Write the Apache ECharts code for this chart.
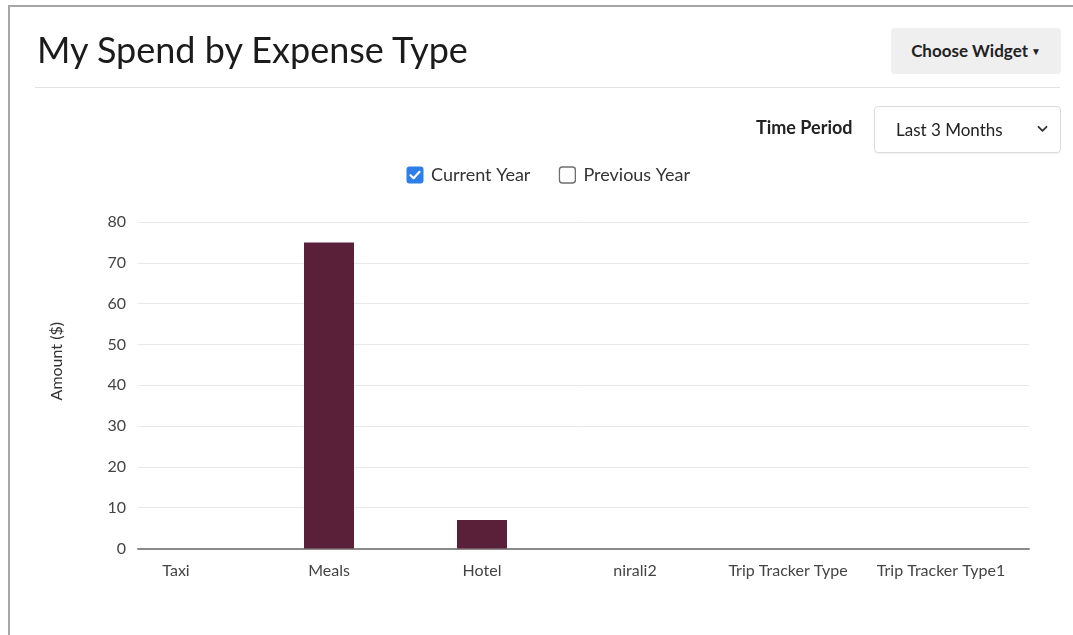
<!DOCTYPE html>
<html>
<head>
<meta charset="utf-8">
<script src="https://cdn.jsdelivr.net/npm/echarts@6/dist/echarts.min.js"></script>
<style>
  html, body { margin: 0; padding: 0; background: #fff; width: 1073px; height: 635px; overflow: hidden; font-family: Lato, "Noto Sans", sans-serif; }
  #frame { position: absolute; left: 8px; top: 5px; width: 1100px; height: 700px; border-left: 2px solid #a6a6a6; border-top: 2px solid #a6a6a6; }
  #chart { position: absolute; left: 0; top: 0; width: 1073px; height: 635px; }
  .abs { position: absolute; }
  #title { left: 37px; top: 27px; font-size: 36px; color: #1b1b1b; white-space: nowrap; }
  #btn { left: 891px; top: 28px; width: 170px; height: 46px; background: #efefef; border-radius: 4px; font-size: 17px; font-weight: bold; color: #222; line-height: 46px; text-align: center; }
  #btn small { font-size: 10px; position: relative; top: -2px; margin-left: 3px; }
  #rule { left: 35px; top: 87px; width: 1025px; height: 1px; background: #e2e2e2; }
  #tp { left: 756px; top: 116px; font-size: 18px; font-weight: bold; color: #222; }
  #sel { left: 874px; top: 106px; width: 185px; height: 45px; border: 1px solid #dcdcdc; border-radius: 4px; box-shadow: 0 1px 2px rgba(0,0,0,0.06); }
  #sel span { position: absolute; left: 21px; top: 12px; font-size: 17px; color: #222; }
  #sel svg { position: absolute; right: 12px; top: 18px; }
</style>
</head>
<body>
<div id="frame"></div>
<div id="chart"></div>
<div class="abs" id="title">My Spend by Expense Type</div>
<div class="abs" id="btn">Choose Widget<small>&#9660;</small></div>
<div class="abs" id="rule"></div>
<div class="abs" id="tp">Time Period</div>
<div class="abs" id="sel"><span>Last 3 Months</span><svg width="11" height="8" viewBox="0 0 11 8"><path d="M1.5 1.8 L5.5 5.8 L9.5 1.8" fill="none" stroke="#333" stroke-width="1.8" stroke-linecap="round" stroke-linejoin="round"/></svg></div>
<script>
const categories = ['Taxi', 'Meals', 'Hotel', 'nirali2', 'Trip Tracker Type', 'Trip Tracker Type1'];
const currentYear = [0, 75, 7, 0, 0, 0];
const previousYear = [];
const yTicks = { min: 0, max: 80, interval: 10 };

const checked = 'image://data:image/svg+xml;charset=utf-8,' + encodeURIComponent(
  '<svg xmlns="http://www.w3.org/2000/svg" width="18" height="18" viewBox="0 0 18 18">' +
  '<rect x="0.5" y="0.5" width="17" height="17" rx="3" fill="#2d7ee6"/>' +
  '<path d="M4.5 9.2 L7.6 12.2 L13.5 5.8" fill="none" stroke="#fff" stroke-width="2.2" stroke-linecap="round" stroke-linejoin="round"/></svg>');
const unchecked = 'image://data:image/svg+xml;charset=utf-8,' + encodeURIComponent(
  '<svg xmlns="http://www.w3.org/2000/svg" width="18" height="18" viewBox="0 0 18 18">' +
  '<rect x="1" y="1" width="16" height="16" rx="3" fill="#fff" stroke="#6f6f6f" stroke-width="1.4"/></svg>');

const chart = echarts.init(document.getElementById('chart'), null, { renderer: 'canvas' });
const fontFamily = 'Lato, "Noto Sans", sans-serif';
chart.setOption({
  animation: false,
  textStyle: { fontFamily },
  legend: {
    left: 401, top: 161, itemWidth: 18, itemHeight: 18, itemGap: 28,
    textStyle: { fontSize: 18, color: '#333', fontFamily, padding: [0, 0, 0, 2] },
    inactiveColor: '#333',
    data: [{ name: 'Current Year', icon: checked }, { name: 'Previous Year', icon: unchecked, textStyle: { color: '#333' } }],
    selected: { 'Current Year': true, 'Previous Year': false }
  },
  graphic: [{
    type: 'text', left: 49, top: 322, rotation: Math.PI / 2,
    style: { text: 'Amount ($)', fill: '#333', font: '16px ' + fontFamily }
  }],
  grid: [
    { left: 99.5, width: 918, top: 222, height: 326.5 },
    { left: 138, width: 891, top: 222, height: 326.5 }
  ],
  xAxis: [
    { type: 'category', gridIndex: 0, data: categories, boundaryGap: true,
      axisLine: { show: false }, axisTick: { show: false },
      axisLabel: { color: '#444', fontSize: 16, margin: 14, interval: 0, fontFamily } },
    { type: 'value', gridIndex: 1, min: 0, max: 1, show: true,
      axisLine: { show: true, lineStyle: { color: '#8a8a8a', width: 2 } },
      axisTick: { show: false }, axisLabel: { show: false }, splitLine: { show: false } }
  ],
  yAxis: [
    { type: 'value', gridIndex: 0, min: yTicks.min, max: yTicks.max, interval: yTicks.interval, show: false },
    { type: 'value', gridIndex: 1, min: yTicks.min, max: yTicks.max, interval: yTicks.interval,
      axisLine: { show: false }, axisTick: { show: false },
      axisLabel: { color: '#444', fontSize: 16, margin: 12, fontFamily },
      splitLine: { lineStyle: { color: '#e8e8e8', width: 1 } } }
  ],
  series: [
    { name: 'Current Year', type: 'bar', xAxisIndex: 0, yAxisIndex: 0, data: currentYear,
      barWidth: 50, itemStyle: { color: '#5a2039' }, z: 3 },
    { name: 'Previous Year', type: 'bar', xAxisIndex: 0, yAxisIndex: 0, data: previousYear,
      barWidth: 50, itemStyle: { color: '#9a9a9a' } }
  ]
});
</script>
</body>
</html>
